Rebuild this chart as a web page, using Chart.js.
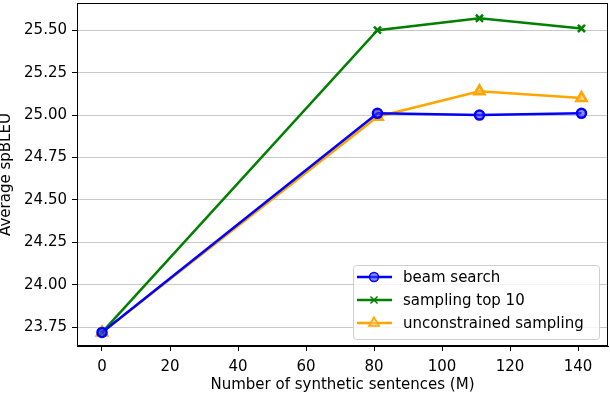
<!DOCTYPE html>
<html>
<head>
<meta charset="utf-8">
<script src="https://cdn.jsdelivr.net/npm/chart.js@4.4.0/dist/chart.umd.min.js"></script>
<style>
  html, body { margin: 0; padding: 0; background: #fff; }
  #wrap { width: 610px; height: 394px; }
</style>
</head>
<body>
<div id="wrap"><canvas id="chart" width="610" height="394"></canvas></div>
<script>
// data
const sentences = [0, 81, 111, 141];
const beamSearch = [23.72, 25.01, 25.00, 25.01];
const samplingTop10 = [23.72, 25.50, 25.57, 25.51];
const unconstrained = [23.72, 24.99, 25.14, 25.10];
const xTicks = [0, 20, 40, 60, 80, 100, 120, 140];
const yTicks = [23.75, 24.00, 24.25, 24.50, 24.75, 25.00, 25.25, 25.50];

const font = "'DejaVu Sans', sans-serif";

function toPoints(ys) {
    return sentences.map((x, i) => ({ x: x, y: ys[i] }));
}

// box round the plot area plus the legend in the lower right corner
const framePlugin = {
    id: 'frame',
    afterDraw(chart) {
        const ctx = chart.ctx;
        const a = chart.chartArea;
        ctx.save();
        ctx.strokeStyle = '#000';
        ctx.lineWidth = 1;
        ctx.strokeRect(a.left + 0.5, a.top + 0.5, a.right - a.left - 1, a.bottom - a.top - 1);

        // legend
        const lx = 353, ly = 265, lw = 246, lh = 74;
        ctx.fillStyle = 'rgba(255,255,255,0.8)';
        ctx.strokeStyle = '#d0d0d0';
        ctx.lineWidth = 1;
        ctx.beginPath();
        ctx.roundRect(lx + 0.5, ly + 0.5, lw, lh, 3);
        ctx.fill();
        ctx.stroke();
        ctx.font = '15px ' + font;
        ctx.textBaseline = 'middle';
        chart.data.datasets.forEach((ds, i) => {
            const y = ly + 12 + i * 23;
            ctx.strokeStyle = ds.borderColor;
            ctx.lineWidth = 2.5;
            ctx.beginPath();
            ctx.moveTo(lx + 4, y);
            ctx.lineTo(lx + 39, y);
            ctx.stroke();
            ctx.fillStyle = ds.pointBackgroundColor;
            ctx.strokeStyle = ds.pointBorderColor;
            ctx.lineWidth = 1.5;
            Chart.helpers.drawPoint(ctx, {
                pointStyle: ds.pointStyle,
                radius: ds.pointRadius,
                borderWidth: 1.5,
                rotation: 0
            }, lx + 21, y);
            ctx.fillStyle = '#000';
            ctx.fillText(ds.label, lx + 50, y + 1);
        });
        ctx.restore();
    }
};

new Chart(document.getElementById('chart'), {
    type: 'line',
    data: {
        datasets: [{
            label: 'beam search',
            data: toPoints(beamSearch),
            borderColor: '#0000ff',
            pointBackgroundColor: 'rgba(60,60,255,0.6)',
            pointBorderColor: '#0000ff',
            pointStyle: 'circle',
            pointRadius: 4.5,
            borderWidth: 2.5
        }, {
            label: 'sampling top 10',
            data: toPoints(samplingTop10),
            borderColor: '#008000',
            pointBackgroundColor: '#008000',
            pointBorderColor: '#008000',
            pointStyle: 'crossRot',
            pointRadius: 5,
            borderWidth: 2.5
        }, {
            label: 'unconstrained sampling',
            data: toPoints(unconstrained),
            borderColor: '#ffa500',
            pointBackgroundColor: 'rgba(255,200,120,0.6)',
            pointBorderColor: '#ffa500',
            pointStyle: 'triangle',
            pointRadius: 6,
            borderWidth: 2.5
        }]
    },
    options: {
        responsive: false,
        animation: false,
        layout: {
            autoPadding: false,
            padding: { top: 3, right: 2, left: 0, bottom: 0 }
        },
        plugins: {
            legend: { display: false },
            tooltip: { enabled: false }
        },
        elements: {
            line: { tension: 0 },
            point: { borderWidth: 1.5 }
        },
        scales: {
            x: {
                type: 'linear',
                min: -7.35,
                max: 148.8,
                afterBuildTicks(scale) {
                    scale.ticks = xTicks.map(v => ({ value: v }));
                },
                afterFit(scale) {
                    scale.height = 48;
                    scale.paddingLeft = 0;
                    scale.paddingRight = 0;
                },
                ticks: {
                    color: '#000',
                    font: { family: font, size: 15 },
                    maxRotation: 0,
                    padding: 7
                },
                grid: {
                    drawOnChartArea: false,
                    tickLength: 5,
                    tickColor: '#000'
                },
                border: { color: '#000' },
                title: {
                    display: true,
                    text: 'Number of synthetic sentences (M)',
                    color: '#000',
                    font: { family: font, size: 15 },
                    padding: { top: 0, bottom: 0 }
                }
            },
            y: {
                min: 23.64,
                max: 25.66,
                afterBuildTicks(scale) {
                    scale.ticks = yTicks.map(v => ({ value: v }));
                },
                afterFit(scale) {
                    scale.width = 77;
                    scale.paddingTop = 0;
                    scale.paddingBottom = 0;
                },
                ticks: {
                    color: '#000',
                    font: { family: font, size: 15 },
                    padding: 5,
                    callback: v => v.toFixed(2)
                },
                grid: {
                    color: '#c8c8c8',
                    lineWidth: 1,
                    tickLength: 5,
                    tickColor: '#000'
                },
                border: { color: '#000' },
                title: {
                    display: true,
                    text: 'Average spBLEU',
                    color: '#000',
                    font: { family: font, size: 15 },
                    padding: { top: -3, bottom: 0 }
                }
            }
        }
    },
    plugins: [framePlugin]
});
</script>
</body>
</html>
